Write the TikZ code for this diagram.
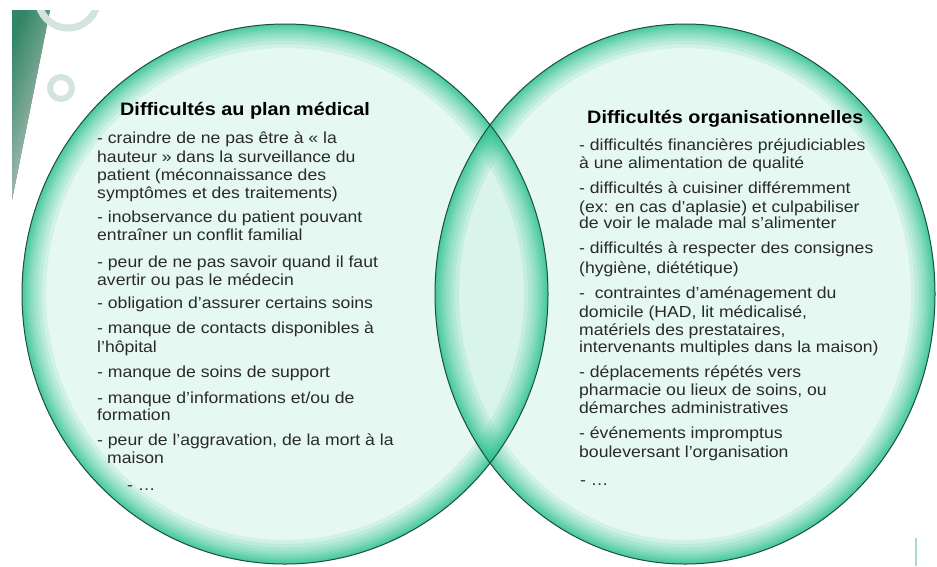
\documentclass[tikz,border=0pt]{standalone}
\usepackage{fontspec}
\setmainfont[FakeStretch=1.1]{Liberation Sans}
\definecolor{vmint}{HTML}{E6F8F2}
\definecolor{vteal}{HTML}{2EC493}
\definecolor{vedge}{HTML}{1F4F40}
\definecolor{vtext}{HTML}{2A2A2A}
\definecolor{decogreen}{HTML}{2E9E72}
\definecolor{ringgrey}{HTML}{D3E4DE}
\definecolor{linecol}{HTML}{A9D9CC}
\tikzset{
  body/.style={anchor=base west, inner sep=0pt, text=vtext, font=\fontsize{16}{18}\selectfont},
  head/.style={anchor=base west, inner sep=0pt, text=black, font=\bfseries\fontsize{18}{21}\selectfont},
  rim/.style={draw=vedge, line width=1pt},
  glowstroke/.style={draw=vteal, draw opacity=0.12}
}
\def\leftshape{(285,294) ellipse[x radius=263, y radius=270]}
\def\rightshape{(685,294) ellipse[x radius=250, y radius=270]}
\newcommand\myglow[1]{%
  \begin{scope}
    \clip #1;
    \foreach \w in {2,3,4,6,8,10,12,15,18,22,27,33,40,48} {
      \path[glowstroke, line width=\w pt] #1;
    }
  \end{scope}}
\begin{document}
\begin{tikzpicture}[x=1pt,y=-1pt]
\useasboundingbox (0,0) rectangle (937,566);
\fill[white] (0,0) rectangle (937,566);
% decorations
\begin{scope}
  \clip (12,10) rectangle (937,566);
  \fill[left color=decogreen, right color=white, shading angle=70, fill opacity=0.75] (12,10) -- (50,10) -- (12,200) -- cycle;
  \draw[ringgrey, line width=7pt] (68,-2) circle[radius=30];
\end{scope}
\draw[ringgrey, line width=6pt] (61,88) circle[radius=11];
\draw[linecol, line width=2pt] (916,538) -- (916,566);
% circles
\fill[vmint] \leftshape;
\myglow{\leftshape}
\fill[vmint] \rightshape;
\myglow{\rightshape}
\begin{scope}
  \clip \rightshape;
  \myglow{\leftshape}
  \fill[vteal, fill opacity=0.07] \leftshape;
\end{scope}
\path[rim] \leftshape;
\path[rim] \rightshape;
% left texts
\node[head] (lt) at (120,115) {Difficultés au plan médical};
\node[body] (l1) at (97,143) {- craindre de ne pas être à « la};
\node[body] (l2) at (97,162) {hauteur » dans la surveillance du};
\node[body] (l3) at (97,180) {patient (méconnaissance des};
\node[body] (l4) at (97,198) {symptômes et des traitements)};
\node[body] (l5) at (97,222) {- inobservance du patient pouvant};
\node[body] (l6) at (97,240) {entraîner un conflit familial};
\node[body] (l7) at (97,267) {- peur de ne pas savoir quand il faut};
\node[body] (l8) at (97,285) {avertir ou pas le médecin};
\node[body] (l9) at (97,308) {- obligation d’assurer certains soins};
\node[body] (l10) at (97,333) {- manque de contacts disponibles à};
\node[body] (l11) at (97,352) {l’hôpital};
\node[body] (l12) at (97,377) {- manque de soins de support};
\node[body] (l13) at (97,403) {- manque d’informations et/ou de};
\node[body] (l14) at (97,420) {formation};
\node[body] (l15) at (97,445) {- peur de l’aggravation, de la mort à la};
\node[body] (l16) at (107,463) {maison};
\node[body] (l17) at (127,490) {- …};
% right texts
\node[head] (rt) at (587,123) {Difficultés organisationnelles};
\node[body] (r1) at (579,150) {- difficultés financières préjudiciables};
\node[body] (r2) at (579,168) {à une alimentation de qualité};
\node[body] (r3) at (579,193) {- difficultés à cuisiner différemment};
\node[body] (r4) at (579,212) {(ex: en cas d’aplasie) et culpabiliser};
\node[body] (r5) at (579,228) {de voir le malade mal s’alimenter};
\node[body] (r6) at (579,253) {- difficultés à respecter des consignes};
\node[body] (r7) at (579,273) {(hygiène, diététique)};
\node[body] (r8) at (579,298) {- \ contraintes d’aménagement du};
\node[body] (r9) at (579,317) {domicile (HAD, lit médicalisé,};
\node[body] (r10) at (579,335) {matériels des prestataires,};
\node[body] (r11) at (579,352) {intervenants multiples dans la maison)};
\node[body] (r12) at (579,377) {- déplacements répétés vers};
\node[body] (r13) at (579,395) {pharmacie ou lieux de soins, ou};
\node[body] (r14) at (579,413) {démarches administratives};
\node[body] (r15) at (579,438) {- événements impromptus};
\node[body] (r16) at (579,457) {bouleversant l’organisation};
\node[body] (r17) at (580,485) {- …};
\end{tikzpicture}
\end{document}
